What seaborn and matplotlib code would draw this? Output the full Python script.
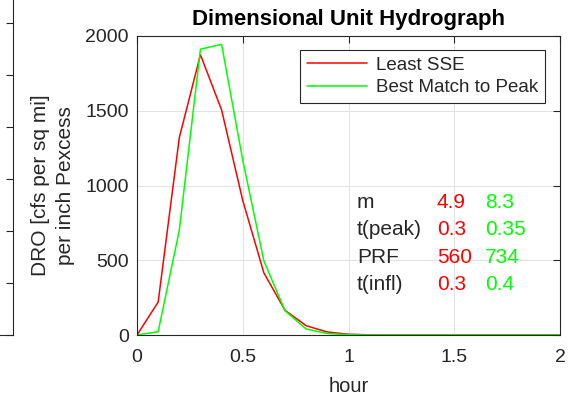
import numpy as np
import pandas as pd
import matplotlib
matplotlib.use("Agg")
import matplotlib.pyplot as plt
import seaborn as sns

# ---- data ----
hours = [0.0, 0.1, 0.2, 0.3, 0.4, 0.5, 0.6, 0.7, 0.8, 0.9, 1.0,
         1.1, 1.2, 1.3, 1.4, 1.5, 1.6, 1.7, 1.8, 1.9, 2.0]
least_sse = [0, 220, 1320, 1875, 1505, 900, 415, 165, 62, 20, 5,
             1, 0, 0, 0, 0, 0, 0, 0, 0, 0]
best_peak = [0, 22, 700, 1912, 1944, 1170, 495, 162, 40, 10, 2,
             0, 0, 0, 0, 0, 0, 0, 0, 0, 0]
series_names = ["Least SSE", "Best Match to Peak"]
x_ticks = [0, 0.5, 1, 1.5, 2]
x_tick_labels = ["0", "0.5", "1", "1.5", "2"]
y_ticks = [0, 500, 1000, 1500, 2000]
y_tick_labels = ["0", "500", "1000", "1500", "2000"]
param_names = ["m", "t(peak)", "PRF", "t(infl)"]
param_sse = ["4.9", "0.3", "560", "0.3"]
param_peak = ["8.3", "0.35", "734", "0.4"]
title = "Dimensional Unit Hydrograph"
x_label = "hour"
y_label = "DRO [cfs per sq mi]\nper inch Pexcess"

sns.set_theme(style="white")
plt.rcParams['font.family'] = ['Liberation Sans', 'DejaVu Sans']
plt.rcParams['axes.unicode_minus'] = False

W, H = 583, 399
fig = plt.figure(figsize=(W / 100, H / 100), dpi=100)

dark = "#262626"
red = (1, 0, 0)
green = (0, 1, 0)

# remnant of neighbouring panel at the far left
ax0 = fig.add_axes([-0.5, 1 - 335 / H, 0.5 + 12.5 / W, 335 / H + 0.05])
ax0.set_xlim(0, 1)
ax0.set_ylim(0, (335 + 20) / 52.0)
ax0.set_yticks([0, 1, 2, 3, 4, 5, 6])
ax0.yaxis.tick_right()
ax0.tick_params(axis='y', direction='in', length=5, width=0.8, colors=dark,
                labelright=False, right=True)
ax0.set_xticks([])
for s in ax0.spines.values():
    s.set_color(dark)
    s.set_linewidth(0.8)

# main axes
left, right, top, bottom = 137, 560, 36, 335
ax = fig.add_axes([left / W, 1 - bottom / H, (right - left) / W, (bottom - top) / H])

df = pd.DataFrame({
    "hour": hours * 2,
    "DRO": least_sse + best_peak,
    "series": [series_names[0]] * len(hours) + [series_names[1]] * len(hours),
})
sns.lineplot(data=df, x="hour", y="DRO", hue="series",
             palette={series_names[0]: red, series_names[1]: green},
             linewidth=1.1, ax=ax, legend=True)

ax.set_xlim(0, 2)
ax.set_ylim(0, 2000)
ax.set_xticks(x_ticks)
ax.set_xticklabels(x_tick_labels)
ax.set_yticks(y_ticks)
ax.set_yticklabels(y_tick_labels)
ax.grid(True, color="#e2e2e2", linewidth=0.7)
ax.set_axisbelow(True)
ax.tick_params(axis='y', direction='in', length=5, width=0.8, colors=dark,
               labelsize=14, right=True, pad=6)
ax.tick_params(axis='x', direction='in', length=5, width=0.8, colors=dark,
               labelsize=14, top=True, pad=10)
for s in ax.spines.values():
    s.set_color(dark)
    s.set_linewidth(0.8)
    s.set_visible(True)

ax.set_title(title, fontsize=16, fontweight='bold', color="black", pad=8)
ax.set_xlabel(x_label, fontsize=14.5, color=dark, labelpad=8)
ax.set_ylabel(y_label, fontsize=15, color=dark, labelpad=7, linespacing=1.45)

leg = ax.legend(loc='upper right', bbox_to_anchor=((545 - left) / (right - left), (bottom - 50) / (bottom - top)),
                fontsize=13.5, frameon=True, fancybox=False, framealpha=1,
                edgecolor=dark, handlelength=3.2, borderpad=0.35, labelspacing=0.3,
                handletextpad=0.5, borderaxespad=0)
leg.get_frame().set_linewidth(0.8)
for t in leg.get_texts():
    t.set_color(dark)

# parameter table
row_y = [886, 705, 517, 336]
for i in range(len(param_names)):
    ax.text(1.04, row_y[i], param_names[i], fontsize=15, color=dark, va='center', ha='left')
    ax.text(1.418, row_y[i], param_sse[i], fontsize=15, color=red, va='center', ha='left')
    ax.text(1.645, row_y[i], param_peak[i], fontsize=15, color=green, va='center', ha='left')

fig.savefig("out.png", dpi=100, facecolor="white")
